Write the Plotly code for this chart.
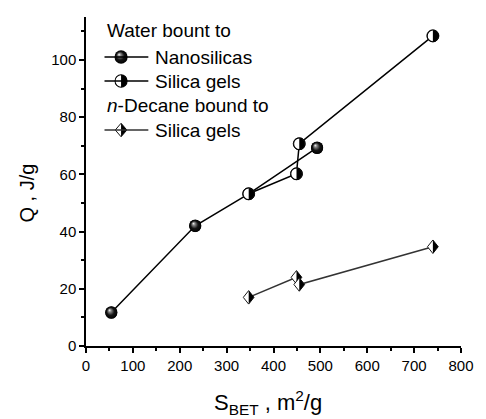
import base64
import plotly.graph_objects as go

# ---------------- data ----------------
nano_x = [54, 233, 347, 493]
nano_y = [11.7, 42.0, 53.2, 69.3]
gel_x = [347, 449, 455, 740]
gel_y = [53.2, 60.2, 70.7, 108.4]
dec_x = [347, 449, 455, 740]
dec_y = [17.0, 24.0, 21.5, 34.7]

x_ticks = [0, 100, 200, 300, 400, 500, 600, 700, 800]
y_ticks = [0, 20, 40, 60, 80, 100]
x_minor = [50, 150, 250, 350, 450, 550, 650, 750]
y_minor = [10, 30, 50, 70, 90, 110]

legend_head1 = "Water bount to"
legend_head2 = "<i>n</i>-Decane bound to"
legend_items = ["Nanosilicas", "Silica gels", "Silica gels"]

FONT = "Liberation Sans, Arial, sans-serif"
W, H = 486, 419
ML, MR, MT, MB = 86, 15, 17, 73
PW, PH = W - ML - MR, H - MT - MB
XR = [0, 800]
YR = [0, 115]
UX = (XR[1] - XR[0]) / PW   # data units per pixel
UY = (YR[1] - YR[0]) / PH


def px(x):
    return (x - ML) / PW


def py(y):
    return (H - MB - y) / PH


def svg_uri(svg):
    return "data:image/svg+xml;base64," + base64.b64encode(svg.encode()).decode()


sphere_svg = svg_uri(
    '<svg xmlns="http://www.w3.org/2000/svg" width="40" height="40" viewBox="0 0 40 40">'
    '<defs><radialGradient id="g" cx="50%" cy="50%" r="50%" fx="34%" fy="30%">'
    '<stop offset="0" stop-color="#ffffff"/><stop offset="0.22" stop-color="#8a8a8a"/>'
    '<stop offset="0.6" stop-color="#141414"/><stop offset="1" stop-color="#000"/>'
    '</radialGradient></defs>'
    '<circle cx="20" cy="20" r="19.5" fill="url(#g)"/></svg>')
half_circle_svg = svg_uri(
    '<svg xmlns="http://www.w3.org/2000/svg" width="40" height="40" viewBox="0 0 40 40">'
    '<circle cx="20" cy="20" r="17.8" fill="#fff" stroke="#000" stroke-width="3.2"/>'
    '<path d="M20,2.2 A17.8,17.8 0 0 1 20,37.8 Z" fill="#000"/></svg>')
half_diamond_svg = svg_uri(
    '<svg xmlns="http://www.w3.org/2000/svg" width="40" height="40" viewBox="0 0 40 40">'
    '<polygon points="20,2 37,20 20,38 3,20" fill="#fff" stroke="#000" stroke-width="2.6"/>'
    '<polygon points="20,2 37,20 20,38" fill="#000"/></svg>')

fig = go.Figure()

# water bound to nanosilicas
fig.add_trace(go.Scatter(
    x=nano_x, y=nano_y, mode="lines+markers",
    line=dict(color="black", width=1.5),
    marker=dict(symbol="circle", size=12, color="black", line=dict(width=0)),
    showlegend=False))

# water bound to silica gels
fig.add_trace(go.Scatter(
    x=gel_x, y=gel_y, mode="lines+markers",
    line=dict(color="black", width=1.5),
    marker=dict(symbol="circle", size=12, color="white",
                line=dict(width=1, color="black")),
    showlegend=False))

# n-decane bound to silica gels
fig.add_trace(go.Scatter(
    x=dec_x, y=dec_y, mode="lines+markers",
    line=dict(color="#333333", width=1.5),
    marker=dict(symbol="diamond", size=8, color="white",
                line=dict(width=0)),
    showlegend=False))

images = []
# marker faces, placed through the data axes (silica-gel faces cover coincident nanosilica points)
gel_pts = set(zip(gel_x, gel_y))
nano_faces = [(xv, yv) for xv, yv in zip(nano_x, nano_y) if (xv, yv) not in gel_pts]
for pts, src, w, h in [(nano_faces, sphere_svg, 13, 13),
                       (list(zip(gel_x, gel_y)), half_circle_svg, 13, 13),
                       (list(zip(dec_x, dec_y)), half_diamond_svg, 13, 15)]:
    for xv, yv in pts:
        images.append(dict(source=src, xref="x", yref="y", x=xv, y=yv,
                           sizex=w * UX, sizey=h * UY, xanchor="center",
                           yanchor="middle", sizing="stretch", layer="above"))

# ---------------- custom legend ----------------
shapes = []
annotations = []
lx0, lx1, lmark, ltext = 105, 150, 122, 155
rows = [31, 57, 81, 105, 130]
LF = 19

annotations.append(dict(x=px(lx0), y=py(rows[0]), xref="paper", yref="paper",
                        text=legend_head1, showarrow=False, xanchor="left",
                        yanchor="middle", font=dict(family=FONT, size=LF, color="black")))
annotations.append(dict(x=px(lx0), y=py(rows[3]), xref="paper", yref="paper",
                        text=legend_head2, showarrow=False, xanchor="left",
                        yanchor="middle", font=dict(family=FONT, size=LF, color="black")))
for label, r, src, col, hh in zip(legend_items, [rows[1], rows[2], rows[4]],
                                  [sphere_svg, half_circle_svg, half_diamond_svg],
                                  ["black", "black", "#333333"], [14, 14, 15]):
    shapes.append(dict(type="line", xref="paper", yref="paper",
                       x0=px(lx0), x1=px(lx1), y0=py(r), y1=py(r),
                       line=dict(color=col, width=1.5)))
    images.append(dict(source=src, xref="paper", yref="paper",
                       x=px(lmark), y=py(r), sizex=14 / PW, sizey=hh / PH,
                       xanchor="center", yanchor="middle", sizing="stretch",
                       layer="above"))
    annotations.append(dict(x=px(ltext), y=py(r), xref="paper", yref="paper",
                            text=label, showarrow=False, xanchor="left",
                            yanchor="middle", font=dict(family=FONT, size=LF, color="black")))

# axis titles
annotations.append(dict(x=px(273), y=py(403), xref="paper", yref="paper",
                        text="S<sub>BET</sub> , m<sup>2</sup>/g", showarrow=False,
                        xanchor="center", yanchor="middle",
                        font=dict(family=FONT, size=22, color="black")))
annotations.append(dict(x=px(25), y=py(193), xref="paper", yref="paper",
                        text="Q , J/g", showarrow=False, textangle=-90,
                        xanchor="center", yanchor="middle",
                        font=dict(family=FONT, size=20, color="black")))

axis_common = dict(showgrid=False, zeroline=False, showline=True, linecolor="black",
                   linewidth=1.5, ticks="outside", ticklen=5, tickwidth=1.5,
                   tickcolor="black", tickfont=dict(family=FONT, size=15, color="black"),
                   mirror=False)

fig.update_layout(
    width=W, height=H,
    margin=dict(l=ML, r=MR, t=MT, b=MB, pad=0),
    paper_bgcolor="white", plot_bgcolor="white",
    xaxis=dict(range=XR, tickmode="array", tickvals=x_ticks,
               ticktext=[str(v) for v in x_ticks],
               minor=dict(tickmode="array", tickvals=x_minor, ticks="outside",
                          ticklen=3, tickwidth=1.5, tickcolor="black"),
               **axis_common),
    yaxis=dict(range=YR, tickmode="array", tickvals=y_ticks,
               ticktext=[str(v) for v in y_ticks],
               minor=dict(tickmode="array", tickvals=y_minor, ticks="outside",
                          ticklen=3, tickwidth=1.5, tickcolor="black"),
               **axis_common),
    shapes=shapes, annotations=annotations, images=images,
    showlegend=False,
)

fig.write_html("out.html")
